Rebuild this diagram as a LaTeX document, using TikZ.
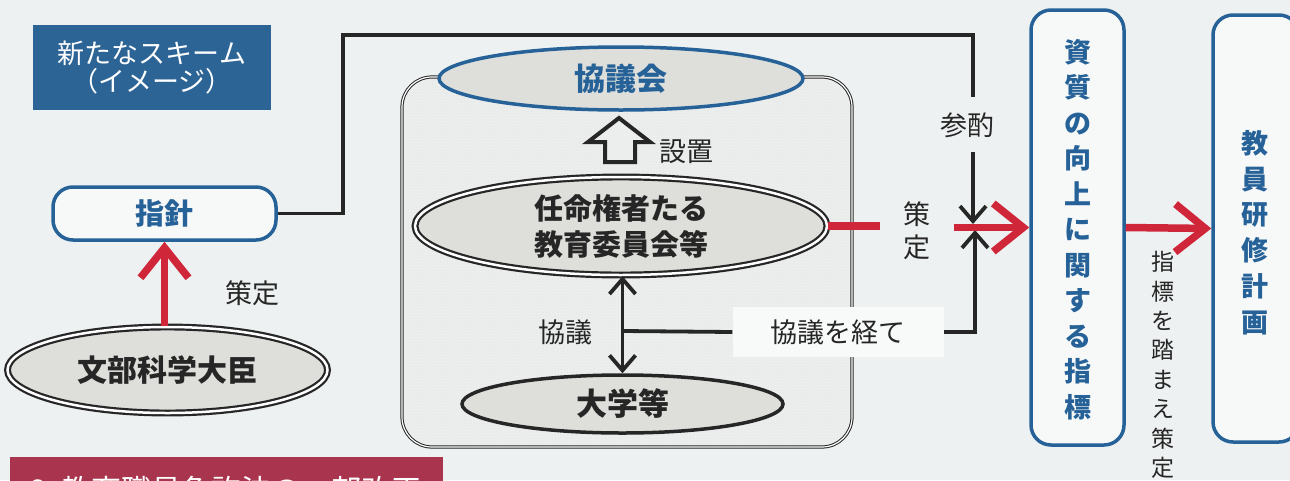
\documentclass[tikz,border=0pt]{standalone}
\usepackage{fontspec}
\setmainfont{Noto Sans CJK JP}
\usetikzlibrary{arrows.meta,shapes.geometric,patterns}
\definecolor{bgc}{RGB}{238,241,241}
\definecolor{bl}{RGB}{38,98,152}
\definecolor{rd}{RGB}{208,38,58}
\definecolor{ink}{RGB}{38,38,38}
\definecolor{ellfill}{RGB}{222,223,218}
\definecolor{panelc}{RGB}{236,238,238}
\definecolor{dotc}{RGB}{222,224,224}
\definecolor{bannerc}{RGB}{168,52,78}
\definecolor{titlec}{RGB}{45,100,150}
\newcommand\myfs[2]{\fontsize{#1}{#2}\selectfont}
\tikzset{
  txt/.style={text=ink, inner sep=0},
  bluebox/.style={draw=bl, line width=3.5, rounded corners=20, fill=white!55!bgc, inner sep=0},
  dblell/.style={ellipse, draw=ink, line width=2.2, double=white, double distance=2.5, fill=ellfill, inner sep=0},
  redline/.style={draw=rd, line width=7.5},
  redarrow/.style={draw=rd, line width=7.5, -{Straight Barb[length=30,width=48]}},
  blkline/.style={draw=ink, line width=3.8},
  blkarrow/.style={draw=ink, line width=3.8, -{Straight Barb[length=15,width=26]}},
}
\begin{document}
\begin{tikzpicture}[x=1pt,y=-1pt]
\path[fill=bgc] (0,0) rectangle (1290,480);
\useasboundingbox (0,0) rectangle (1290,480);

% title
\node[fill=titlec, minimum width=238, minimum height=85, inner sep=0, text=white, align=center, font=\myfs{27}{28}] (title) at (152,67.5) {新たなスキーム\\（イメージ）};

% 指針
\node[bluebox, minimum width=223, minimum height=53, text=bl, font=\myfs{29}{29}\bfseries] (shishin) at (164.5,213.5) {指針};

% 文部科学大臣
\node[dblell, minimum width=320, minimum height=86, font=\myfs{30}{30}\bfseries, text=ink] (mombu) at (167.5,370) {文部科学大臣};
\draw[redarrow] (mombu.north -| shishin.south) -- (shishin.south);
\node[txt, font=\myfs{27}{27}] (sakutei1) at (252,293) {策定};

% panel
\node[draw=ink, line width=1, double=white, double distance=1.2, rounded corners=30, minimum width=450, minimum height=370, inner sep=0, fill=panelc] (panel) at (627,262) {};
\fill[pattern=dots, pattern color=dotc, rounded corners=28] (405,80) rectangle (849,444);

% 協議会
\node[ellipse, draw=bl, line width=3.5, fill=ellfill, minimum width=364, minimum height=63, inner sep=0, text=bl, font=\myfs{31}{31}\bfseries] (kyogikai) at (621,78.5) {協議会};

% hollow arrow 設置
\draw[ink, line width=4, fill=panelc, line join=miter] (619,118) -- (650,142) -- (635,142) -- (635,162) -- (605,162) -- (605,142) -- (588,142) -- cycle;
\node[txt, font=\myfs{27}{27}] (secchi) at (686,152) {設置};

% 任命権者たる教育委員会等
\node[dblell, minimum width=412, minimum height=98, align=center, font=\myfs{29}{36}\bfseries, text=ink] (ninmei) at (621,226) {任命権者たる\\教育委員会等};

% 大学等
\node[ellipse, draw=ink, line width=3.5, fill=ellfill, minimum width=321, minimum height=58, inner sep=0, text=ink, font=\myfs{31}{31}\bfseries] (daigaku) at (622.5,404) {大学等};

% 協議 double arrow
\draw[blkarrow, {Straight Barb[length=15,width=26]}-{Straight Barb[length=15,width=26]}] (ninmei.south -| daigaku.north) -- (daigaku.north);
\node[txt, font=\myfs{27}{27}] (kyogi) at (565,332) {協議};
\coordinate (kmid) at (623,331);

% 協議を経て
\node[fill=white!60!bgc, minimum width=211, minimum height=50, inner sep=0, text=ink, font=\myfs{27}{27}] (keite) at (838,332) {協議を経て};
\draw[blkline] (kmid) -- (keite.west);

% right boxes
\node[bluebox, minimum width=93, minimum height=435] (shishitsu) at (1077.5,227.5) {};
\node[txt, text=bl, align=center, font=\myfs{27}{35.5}\bfseries] (shishitsut) at (1077.5,229.5) {資\\質\\の\\向\\上\\に\\関\\す\\る\\指\\標};
\node[bluebox, minimum width=86, minimum height=427] (kenshu) at (1256,228.5) {};
\node[txt, text=bl, align=center, font=\myfs{27}{35.8}\bfseries] (kenshut) at (1255,232.5) {教\\員\\研\\修\\計\\画};

% 参酌 connector
\coordinate (jtop) at (973,97);
\coordinate (jmid) at (973,152);
\coordinate (jdown) at (973,224);
\coordinate (jup) at (975,230);
\draw[blkline, line join=miter] (shishin.east) -| (343,35) -| (jtop);
\node[txt, font=\myfs{27}{27}] (sanshaku) at (967,125) {参酌};
\draw[blkarrow] (jmid) -- (jdown);
\draw[blkarrow, line join=miter] (keite.east) -| (jup);

% 策定 red arrow
\node[txt, align=center, minimum width=73, font=\myfs{27}{33}] (sakutei2) at (917,231) {策\\定};
\draw[redline] (ninmei.east) -- (ninmei.east -| sakutei2.west);
\draw[redarrow] (sakutei2.east |- shishitsu.west) -- (shishitsu.west);

% to 教員研修計画
\draw[redarrow] (shishitsu.east) -- (kenshu.west);
\node[txt, align=center, font=\myfs{23}{29.4}] (fumae) at (1163,365) {指\\標\\を\\踏\\ま\\え\\策\\定};

% bottom banner (cut off by the lower edge, as in the reference)
\begin{scope}
\clip (0,0) rectangle (1290,480);
\node[fill=bannerc, minimum width=433, minimum height=60, inner sep=0, anchor=north west] (banner) at (10,457) {};
\node[text=white, inner sep=0, anchor=west, font=\myfs{30}{30}] (bannert) at (30,490) {2.\ 教育職員免許法の一部改正};
\end{scope}
\end{tikzpicture}
\end{document}
